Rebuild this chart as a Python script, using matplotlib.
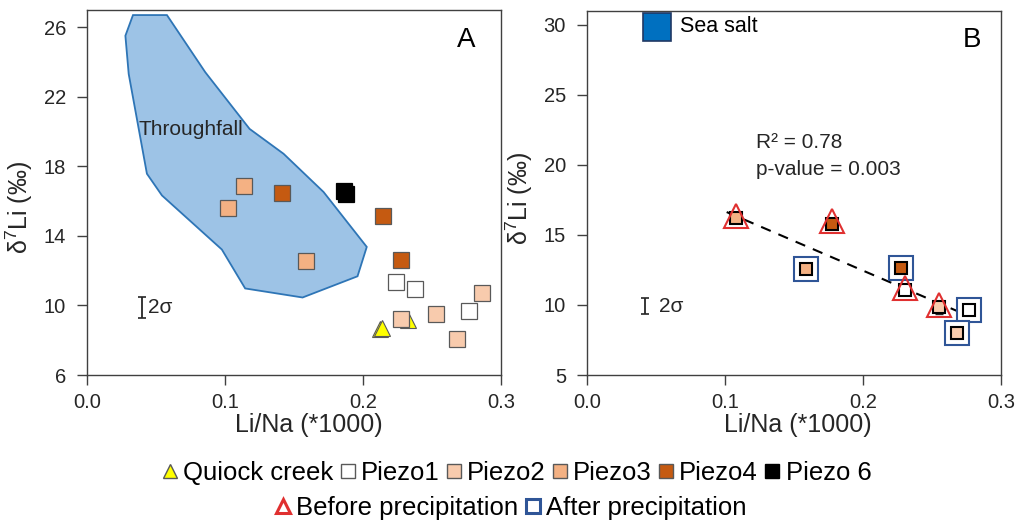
import numpy as np
import matplotlib
matplotlib.use("Agg")
import matplotlib.pyplot as plt
from matplotlib.lines import Line2D

plt.rcParams["font.family"] = ["Liberation Sans", "DejaVu Sans"]
plt.rcParams["mathtext.fontset"] = "custom"
plt.rcParams["mathtext.rm"] = "Liberation Sans"
plt.rcParams["mathtext.it"] = "Liberation Sans:italic"

# -------------------------------------------------
# Data - panel A
# -------------------------------------------------

quiock_x = [0.212, 0.2136, 0.2329]
quiock_y = [8.62, 8.68, 9.16]

piezo1_x = [0.224, 0.2373, 0.2771]
piezo1_y = [11.36, 10.92, 9.67]

piezo2_x = [0.2273, 0.2529, 0.2679, 0.286]
piezo2_y = [9.25, 9.52, 8.07, 10.71]

piezo3_x = [0.1137, 0.1023, 0.1588]
piezo3_y = [16.85, 15.61, 12.58]

piezo4_x = [0.1414, 0.2148, 0.2273]
piezo4_y = [16.49, 15.15, 12.62]

piezo6_x = [0.1863, 0.1878]
piezo6_y = [16.58, 16.43]

throughfall_x = [0.0333, 0.0579, 0.0857, 0.1178, 0.1424, 0.1714, 0.2027, 0.196,
                 0.1562, 0.1146, 0.0977, 0.0543, 0.0434, 0.0302, 0.0278]
throughfall_y = [26.71, 26.71, 23.42, 20.16, 18.73, 16.53, 13.37, 11.68,
                 10.46, 10.98, 13.22, 16.33, 17.58, 23.32, 25.52]

# -------------------------------------------------
# Data - panel B
# -------------------------------------------------

b_x = [0.108, 0.178, 0.159, 0.2275, 0.2307, 0.2553, 0.2773, 0.268]
b_y = [16.17, 15.81, 12.53, 12.65, 11.06, 9.82, 9.63, 8.02]
b_site = ["Piezo3", "Piezo4", "Piezo3", "Piezo4", "Piezo1", "Piezo2", "Piezo1", "Piezo2"]
b_period = ["before", "before", "after", "after", "before", "before", "after", "after"]
b_err = [0.35, 0.35, 0.0, 0.4, 0.0, 0.45, 0.0, 0.0]

fit_x = [0.1014, 0.2754]
fit_y = [16.63, 9.27]

sea_salt_x = [0.0512]
sea_salt_y = [29.83]

# -------------------------------------------------
# Styles
# -------------------------------------------------

COLORS = {
    "Quiock": "#FFFF00",
    "Piezo1": "#FFFFFF",
    "Piezo2": "#F8CBAD",
    "Piezo3": "#F4B183",
    "Piezo4": "#C55A11",
    "Piezo6": "#000000",
}
RED = "#E03030"
BLUE = "#2F5597"
SPINE = "#404040"
TXT = "#262626"

fig = plt.figure(figsize=(10.19, 5.22), dpi=100)
ax_a = fig.add_axes([0.0854, 0.2816, 0.4063, 0.6992])
ax_b = fig.add_axes([0.5758, 0.2816, 0.4063, 0.6979])


def style_axes(ax, xlab_x, ylab_y):
    for s in ax.spines.values():
        s.set_color(SPINE)
        s.set_linewidth(1.0)
    ax.tick_params(axis="y", direction="out", length=7, width=1, color=SPINE,
                   labelsize=14.5, labelcolor=TXT, pad=8)
    ax.tick_params(axis="x", direction="out", length=7, width=1, color=SPINE,
                   labelsize=14.5, labelcolor=TXT, pad=6)
    ax.set_xlim(0, 0.3)
    ax.set_xticks([0.0, 0.1, 0.2, 0.3])
    ax.set_xticklabels(["0.0", "0.1", "0.2", "0.3"])
    ax.set_xlabel("Li/Na (*1000)", fontsize=18, color=TXT)
    ax.set_ylabel(r"δ$^{7}$Li (‰)", fontsize=18, color=TXT)
    ax.xaxis.set_label_coords(xlab_x, -0.105)
    ax.yaxis.set_label_coords(-0.125, ylab_y)


# -------------------------------------------------
# Panel A
# -------------------------------------------------

ax_a.fill(throughfall_x, throughfall_y, facecolor="#9DC3E6", edgecolor="#2E75B6",
          linewidth=1.3, zorder=1)
ax_a.text(0.0374, 20.1, "Throughfall", fontsize=15, color=TXT, va="center", zorder=2)

ax_a.plot(quiock_x, quiock_y, linestyle="none", marker="^", markersize=11,
          markerfacecolor=COLORS["Quiock"], markeredgecolor="#595959", markeredgewidth=0.8, zorder=3)
for key, xs, ys in [("Piezo1", piezo1_x, piezo1_y), ("Piezo2", piezo2_x, piezo2_y),
                    ("Piezo3", piezo3_x, piezo3_y), ("Piezo4", piezo4_x, piezo4_y),
                    ("Piezo6", piezo6_x, piezo6_y)]:
    ax_a.plot(xs, ys, linestyle="none", marker="s", markersize=11,
              markerfacecolor=COLORS[key], markeredgecolor="#595959" if key != "Piezo6" else "#000000",
              markeredgewidth=0.9, zorder=4)

ax_a.errorbar([0.0398], [9.9], yerr=[0.6], fmt="none", ecolor="#262626",
              elinewidth=1.3, capsize=3, capthick=1.2)
ax_a.text(0.0445, 9.9, "2σ", fontsize=15, color=TXT, va="center")
ax_a.text(0.275, 25.3, "A", fontsize=20, color="#000000", ha="center", va="center")

ax_a.set_ylim(6, 27)
ax_a.set_yticks([6, 10, 14, 18, 22, 26])
style_axes(ax_a, 0.536, 0.458)

# -------------------------------------------------
# Panel B
# -------------------------------------------------

ax_b.plot(fit_x, fit_y, linestyle=(0, (5, 4)), color="#000000", linewidth=1.5, zorder=2)

for i in range(len(b_x)):
    if b_period[i] == "after":
        ax_b.plot(b_x[i], b_y[i], linestyle="none", marker="s", markersize=17,
                  markerfacecolor="white", markeredgecolor=BLUE, markeredgewidth=1.5, zorder=3)
    if b_err[i] > 0:
        ax_b.errorbar([b_x[i]], [b_y[i]], yerr=[b_err[i]], fmt="none", ecolor="#262626",
                      elinewidth=1.0, capsize=3, capthick=1.0, zorder=4)
    ax_b.plot(b_x[i], b_y[i], linestyle="none", marker="s", markersize=8.5,
              markerfacecolor=COLORS[b_site[i]], markeredgecolor="#000000",
              markeredgewidth=1.5, zorder=5)
    if b_period[i] == "before":
        ax_b.plot(b_x[i], b_y[i] + 0.15, linestyle="none", marker="^", markersize=17,
                  markerfacecolor="none", markeredgecolor=RED, markeredgewidth=1.5, zorder=6)

ax_b.plot(sea_salt_x, sea_salt_y, linestyle="none", marker="s", markersize=20,
          markerfacecolor="#0070C0", markeredgecolor="#203864", markeredgewidth=1.2, zorder=3)
ax_b.text(0.0676, 29.9, "Sea salt", fontsize=15.5, color="#000000", va="center")

ax_b.text(0.123, 21.6, "R² = 0.78", fontsize=15, color=TXT, va="center")
ax_b.text(0.123, 19.7, "p-value = 0.003", fontsize=15, color=TXT, va="center")

ax_b.errorbar([0.0423], [9.92], yerr=[0.6], fmt="none", ecolor="#262626",
              elinewidth=1.3, capsize=3, capthick=1.2)
ax_b.text(0.052, 9.92, "2σ", fontsize=15, color=TXT, va="center")
ax_b.text(0.279, 28.9, "B", fontsize=20, color="#000000", ha="center", va="center")

ax_b.set_ylim(5, 31)
ax_b.set_yticks([5, 10, 15, 20, 25, 30])
style_axes(ax_b, 0.509, 0.486)

# -------------------------------------------------
# Legends
# -------------------------------------------------

row1 = [
    Line2D([], [], linestyle="none", marker="^", markersize=10,
           markerfacecolor=COLORS["Quiock"], markeredgecolor="#595959", label="Quiock creek"),
    Line2D([], [], linestyle="none", marker="s", markersize=10,
           markerfacecolor=COLORS["Piezo1"], markeredgecolor="#595959", label="Piezo1"),
    Line2D([], [], linestyle="none", marker="s", markersize=10,
           markerfacecolor=COLORS["Piezo2"], markeredgecolor="#595959", label="Piezo2"),
    Line2D([], [], linestyle="none", marker="s", markersize=10,
           markerfacecolor=COLORS["Piezo3"], markeredgecolor="#595959", label="Piezo3"),
    Line2D([], [], linestyle="none", marker="s", markersize=10,
           markerfacecolor=COLORS["Piezo4"], markeredgecolor="#595959", label="Piezo4"),
    Line2D([], [], linestyle="none", marker="s", markersize=10,
           markerfacecolor=COLORS["Piezo6"], markeredgecolor="#000000", label="Piezo 6"),
]
row2 = [
    Line2D([], [], linestyle="none", marker="^", markersize=10, markerfacecolor="none",
           markeredgecolor=RED, markeredgewidth=2.2, label="Before precipitation"),
    Line2D([], [], linestyle="none", marker="s", markersize=10, markerfacecolor="none",
           markeredgecolor=BLUE, markeredgewidth=2.2, label="After precipitation"),
]

leg_kw = dict(frameon=False, fontsize=18.5, handlelength=0.62, handletextpad=0.2,
              columnspacing=0.25, borderpad=0, borderaxespad=0)
fig.legend(handles=row1, loc="center", bbox_to_anchor=(0.507, 0.094), ncol=6, **leg_kw)
fig.legend(handles=row2, loc="center", bbox_to_anchor=(0.501, 0.027), ncol=2, **leg_kw)

fig.savefig("out.png", dpi=100)
